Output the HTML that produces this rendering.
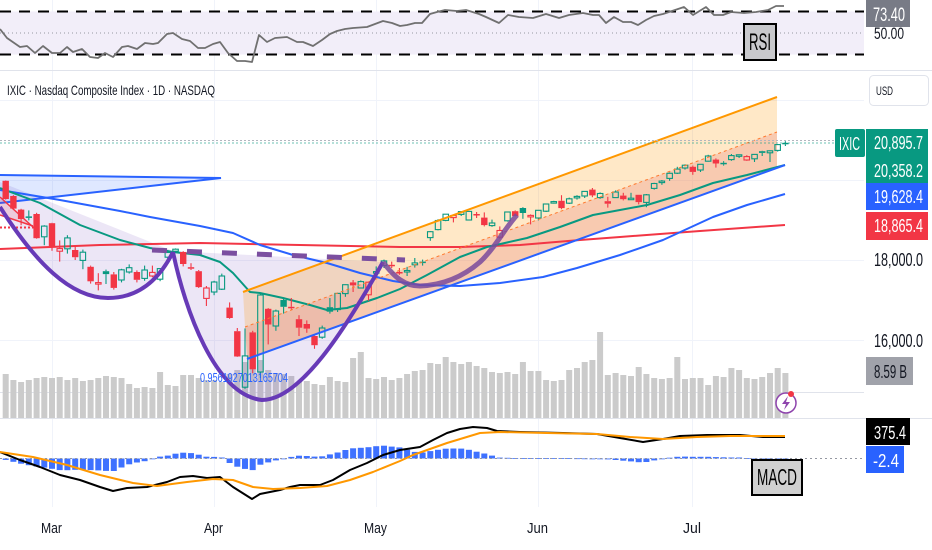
<!DOCTYPE html>
<html><head><meta charset="utf-8">
<style>
html,body{margin:0;padding:0;background:#fff;overflow:hidden;}
svg{display:block;font-family:"Liberation Sans",sans-serif;}
</style></head>
<body>
<svg id="c" width="932" height="550" viewBox="0 0 932 550" xmlns="http://www.w3.org/2000/svg">
<defs>
 <clipPath id="cpMain"><rect x="0" y="71" width="864" height="347"/></clipPath>
 <clipPath id="cpRsi"><rect x="0" y="0" width="864" height="70"/></clipPath>
 <clipPath id="cpMacd"><rect x="0" y="419" width="864" height="88"/></clipPath>
</defs>
<rect x="0" y="0" width="932" height="550" fill="#fff"/>
<!-- grid -->
<g stroke="#f0f3fa" stroke-width="1">
 <line x1="52.5" y1="0" x2="52.5" y2="507"/>
 <line x1="214.5" y1="0" x2="214.5" y2="507"/>
 <line x1="376.5" y1="0" x2="376.5" y2="507"/>
 <line x1="538.5" y1="0" x2="538.5" y2="507"/>
 <line x1="692.5" y1="0" x2="692.5" y2="507"/>
 <line x1="0" y1="100.5" x2="864" y2="100.5"/>
 <line x1="0" y1="180.5" x2="864" y2="180.5"/>
 <line x1="0" y1="260.5" x2="864" y2="260.5"/>
 <line x1="0" y1="340.5" x2="864" y2="340.5"/>
</g>
<line x1="0" y1="392.5" x2="864" y2="392.5" stroke="#e0e3eb" stroke-width="1"/>

<!-- RSI pane -->
<g clip-path="url(#cpRsi)">
 <rect x="0" y="11.5" width="864" height="43" fill="#f2eef9"/>
 <line x1="0" y1="11.5" x2="864" y2="11.5" stroke="#000" stroke-width="2" stroke-dasharray="11 8"/>
 <line x1="0" y1="54.5" x2="864" y2="54.5" stroke="#000" stroke-width="2" stroke-dasharray="11 8"/>
 <line x1="0" y1="33" x2="864" y2="33" stroke="#9598a1" stroke-width="1" stroke-dasharray="1 3"/>
 <polyline fill="none" stroke="#707070" stroke-width="1.8" stroke-linejoin="round" points="0,29 7,38 20,47 27,46 35,53 43,46 52,53 60,53 67,47 73,52 82,49 90,57 98,58 105,53 113,57 122,47 128,46 137,49 145,43 153,44 158,43 167,34 173,33 182,39 190,41 198,48 205,48 213,44 220,42 228,53 237,61 245,61 252,62 259,35 267,42 275,38 287,37 297,42 303,42 313,46 322,40 330,34 337,31 345,29 353,28 367,27 375,24 383,21 392,23 400,26 407,25 415,23 422,23 430,14 437,12 445,10 457,11 466,10 479,14 486,17 499,23 508,15 519,17 533,18 546,14 559,18 569,15 583,13 593,15 599,15 606,23 614,17 623,22 631,22 638,25 646,20 654,16 663,14 669,12 684,7 693,15 706,7 714,15 723,15 731,12 744,13 756,12 768,10 776,6 784,6"/>
</g>
<line x1="0" y1="70.5" x2="932" y2="70.5" stroke="#e0e3eb" stroke-width="1"/>

<!-- MAIN pane -->
<g clip-path="url(#cpMain)">
 <g id="vol"></g>
 <path d="M0,182 L173,251 C160,278 140,298 108,298 C70,298 35,262 0,207 Z" fill="#7e57c2" fill-opacity="0.15"/>
 <path d="M173,251 L383,262 C345,330 300,400 262,400 C215,395 185,310 173,252 Z" fill="#7e57c2" fill-opacity="0.15"/>
 <polygon points="0,175 221,178 0,203" fill="#2962ff" fill-opacity="0.15"/>
 <polyline points="0,175 221,178 0,203" fill="none" stroke="#2962ff" stroke-width="2"/>
 <polygon points="0,197 33,227 0,215" fill="#f23645" fill-opacity="0.15"/>
 <polyline points="0,197 33,227" fill="none" stroke="#f23645" stroke-width="1.5"/>
 <polyline points="0,215 33,226" fill="none" stroke="#f23645" stroke-width="1.5"/>
 <line x1="0" y1="227.5" x2="35" y2="227.5" stroke="#f23645" stroke-width="2" stroke-dasharray="2 2"/>
 <polygon points="243,292 777,97 777,132 245,327" fill="#ff9800" fill-opacity="0.22"/>
 <polygon points="245,327 777,132 777,168 247,359" fill="#f08a50" fill-opacity="0.45"/>
 <polyline fill="none" stroke="#f23645" stroke-width="2" points="0,249 100,245 200,243 300,245 400,247 460,247 520,245 580,240 620,237 700,231 785,225"/>
 <polyline fill="none" stroke="#2962ff" stroke-width="2" stroke-linejoin="round" points="0,190 60,200 120,211 150,217 200,226 233,233 260,245 293,255 327,263 360,273 393,281 420,285 460,286 500,283 543,277 577,268 620,255 663,240 713,217 747,205 785,194"/>
 <polyline fill="none" stroke="#089981" stroke-width="2" stroke-linejoin="round" points="0,188 40,203 80,225 120,240 150,248 173,252 200,255 220,262 233,273 250,292 260,293 283,298 310,305 327,310 347,308 377,298 400,289 427,275 460,257 487,247 527,238 560,227 593,215 620,210 647,205 680,195 713,183 747,175 785,165"/>
 <g id="candles"></g>
 <line x1="243" y1="292" x2="777" y2="97" stroke="#ff9800" stroke-width="2"/>
 <line x1="245" y1="327" x2="777" y2="132" stroke="#ff7a2f" stroke-width="1" stroke-dasharray="3 3"/>
 <line x1="247" y1="359" x2="785" y2="165" stroke="#2962ff" stroke-width="2"/>
 <path d="M0,207 C35,262 70,298 108,298 C140,298 160,278 173,252" fill="none" stroke="#673ab7" stroke-width="4"/>
 <path d="M173,252 C185,310 215,395 262,400 C300,400 345,330 383,262" fill="none" stroke="#673ab7" stroke-width="4"/>
 <path d="M383,262 C395,278 405,286 420,286 C445,285 465,275 480,262 C495,248 505,228 517,215" fill="none" stroke="#7a4a9c" stroke-width="5" stroke-opacity="0.85"/>
 <line x1="152" y1="250" x2="405" y2="260" stroke="#7b4fa0" stroke-width="5" stroke-dasharray="15 20"/>
 <text x="200" y="382" font-size="13" fill="#2962ff" textLength="88" lengthAdjust="spacingAndGlyphs">0.9561927013165704</text>
 <line x1="0" y1="140.5" x2="835" y2="140.5" stroke="#b2b5be" stroke-width="1" stroke-dasharray="2 2"/>
 <line x1="0" y1="143" x2="835" y2="143" stroke="#089981" stroke-width="1" stroke-dasharray="2 2" stroke-opacity="0.6"/>
</g>
<circle cx="786" cy="403" r="10" fill="#fff" stroke="#8e44ad" stroke-width="1.5"/>
<path d="M788,396 L782,404 L786,404 L784,410 L790,402 L786,402 Z" fill="#8e44ad"/>
<circle cx="791" cy="394" r="3" fill="#f23645"/>

<text x="7" y="95" font-size="14" fill="#131722" textLength="208" lengthAdjust="spacingAndGlyphs">IXIC · Nasdaq Composite Index · 1D · NASDAQ</text>

<rect x="866" y="0" width="44" height="27" fill="#787b86"/>
<text x="873" y="21" font-size="19" fill="#fff" textLength="32" lengthAdjust="spacingAndGlyphs">73.40</text>
<text x="874" y="39" font-size="17" fill="#131722" textLength="30" lengthAdjust="spacingAndGlyphs">50.00</text>
<rect x="744" y="24" width="32" height="36" fill="#c8c8cc" stroke="#000" stroke-width="2"/>
<text x="749" y="50" font-size="24" fill="#000" textLength="22" lengthAdjust="spacingAndGlyphs">RSI</text>

<rect x="869.5" y="75.5" width="59" height="30" rx="4" fill="#fff" stroke="#e0e3eb"/>
<text x="876" y="95" font-size="12" fill="#131722" textLength="17" lengthAdjust="spacingAndGlyphs">USD</text>

<rect x="835" y="129" width="30" height="28" rx="2" fill="#089981"/>
<text x="839" y="150" font-size="18" fill="#fff" textLength="21" lengthAdjust="spacingAndGlyphs">IXIC</text>
<rect x="866" y="129" width="62" height="54" fill="#089981"/>
<text x="874" y="149" font-size="18" fill="#fff" textLength="49" lengthAdjust="spacingAndGlyphs">20,895.7</text>
<text x="874" y="177" font-size="18" fill="#fff" textLength="49" lengthAdjust="spacingAndGlyphs">20,358.2</text>
<rect x="866" y="183" width="62" height="27" fill="#2962ff"/>
<text x="874" y="203" font-size="18" fill="#fff" textLength="49" lengthAdjust="spacingAndGlyphs">19,628.4</text>
<rect x="866" y="212" width="62" height="28" fill="#f23645"/>
<text x="874" y="232" font-size="18" fill="#fff" textLength="49" lengthAdjust="spacingAndGlyphs">18,865.4</text>
<text x="874" y="266" font-size="18" fill="#131722" textLength="49" lengthAdjust="spacingAndGlyphs">18,000.0</text>
<text x="874" y="347" font-size="18" fill="#131722" textLength="49" lengthAdjust="spacingAndGlyphs">16,000.0</text>
<rect x="866" y="357" width="47" height="28" fill="#a0a2aa"/>
<text x="874" y="378" font-size="18" fill="#131722" textLength="33" lengthAdjust="spacingAndGlyphs">8.59 B</text>

<line x1="0" y1="418.5" x2="932" y2="418.5" stroke="#e0e3eb" stroke-width="1"/>

<g clip-path="url(#cpMacd)">
 <g id="hist"></g>
 <line x1="0" y1="458.5" x2="866" y2="458.5" stroke="#9598a1" stroke-width="1" stroke-dasharray="2 3"/>
 <polyline fill="none" stroke="#000" stroke-width="2" stroke-linejoin="round" points="0,452 20,460 40,467 60,475 80,480 100,487 113,491 127,488 147,487 167,482 180,477 193,476 207,478 220,477 233,487 252,499 260,494 280,490 290,487 300,485 320,485 333,480 350,470 367,463 383,455 400,450 420,447 433,440 447,433 460,429 473,427 487,428 497,431 520,432 563,433 597,434 620,438 643,442 663,439 680,436 707,435 740,435 763,437 785,437"/>
 <polyline fill="none" stroke="#ff9800" stroke-width="2" stroke-linejoin="round" points="0,452 33,457 67,465 100,475 133,483 157,486 187,482 213,479 233,480 253,487 273,489 300,488 327,486 350,480 373,472 400,461 413,455 447,443 480,433 500,432 547,433 597,434 630,437 663,439 697,437 730,436 785,436"/>
</g>
<rect x="866" y="418" width="44" height="27" fill="#000"/>
<text x="874" y="439" font-size="18" fill="#fff" textLength="32" lengthAdjust="spacingAndGlyphs">375.4</text>
<rect x="866" y="446" width="38" height="27" fill="#2962ff"/>
<text x="873" y="467" font-size="18" fill="#fff" textLength="26" lengthAdjust="spacingAndGlyphs">-2.4</text>
<rect x="752" y="460" width="50" height="35" fill="#d0d0d0" stroke="#000" stroke-width="2"/>
<text x="757" y="485" font-size="23" fill="#000" textLength="40" lengthAdjust="spacingAndGlyphs">MACD</text>

<g font-size="15" fill="#131722">
 <text x="41" y="533" textLength="21" lengthAdjust="spacingAndGlyphs">Mar</text>
 <text x="204" y="533" textLength="19" lengthAdjust="spacingAndGlyphs">Apr</text>
 <text x="364" y="533" textLength="23" lengthAdjust="spacingAndGlyphs">May</text>
 <text x="527" y="533" textLength="21" lengthAdjust="spacingAndGlyphs">Jun</text>
 <text x="683" y="533" textLength="18" lengthAdjust="spacingAndGlyphs">Jul</text>
</g>
</svg>
<script>
(function(){
var D=[[19980,19990,19510,19524],[19600,19620,19260,19286],[19260,19280,18870,19026],[19090,19240,18990,19075],[19150,19180,18530,18544],[18580,18870,18370,18847],
[18920,18930,18230,18350],[18220,18490,17960,18285],[18280,18620,18160,18553],[18250,18330,18000,18069],[17990,18260,17770,18196],[17830,17860,17410,17468],[17430,17670,17240,17436],[17720,17760,17400,17648],[17640,17700,17260,17303],[17500,17780,17440,17754],[17700,17890,17660,17808],[17700,17740,17440,17504],[17540,17860,17480,17750],[17600,17860,17570,17691],[17520,17800,17470,17784],[18070,18220,18030,18188],[18220,18290,18180,18271],[18200,18220,17840,17899],[17820,17920,17750,17804],[17720,17750,17300,17322],[17040,17350,16850,17299],
[17200,17480,17120,17449],[17270,17660,17250,17601],[16810,16940,16530,16551],[16220,16300,15580,15588],[14820,16290,14780,15603],[16190,16230,15170,15268],[15200,17160,15050,17125],[16780,16800,15890,16387],[16350,16760,16230,16724],[17000,17060,16660,16831],[16830,17050,16760,16823],[16520,16620,16100,16307],[16400,16490,16180,16286],[16100,16110,15780,15870],[16070,16360,16030,16300],[16820,17050,16660,16708],[16760,17180,16700,17166],[17160,17390,17080,17382],[17440,17500,17200,17366],[17300,17490,17290,17461],[17130,17460,16980,17446],
[17700,17840,17620,17710],[17860,18010,17800,17977],[17880,17960,17800,17844],[17700,17800,17630,17689],[17730,17830,17600,17738],[17880,18050,17810,17928],[17960,18010,17860,17929],[18560,18720,18480,18708],[18760,19020,18740,18987],[18990,19150,18970,19146],[19060,19120,18940,19112],[19140,19220,19100,19211],[19000,19220,18990,19215],[19150,19200,19050,19143],[19060,19190,18840,18872],[18860,19010,18830,18925],[18570,18840,18530,18737],[18980,19200,18960,19199],[19220,19240,19090,19101],[19300,19320,19030,19175],[19110,19140,18890,19114],
[19050,19250,18990,19243],[19220,19410,19200,19399],[19430,19480,19410,19460],[19480,19620,19270,19298],[19420,19560,19400,19530],[19580,19620,19510,19591],[19600,19720,19550,19715],[19760,19800,19570,19615],[19560,19690,19530,19662],[19470,19580,19310,19407],[19560,19740,19550,19701],[19610,19680,19490,19521],[19530,19680,19500,19546],[19630,19630,19390,19447],[19440,19650,19320,19631],[19790,19930,19760,19913],[19960,20000,19880,19973],[20040,20190,19980,20168],[20170,20330,20150,20273],[20300,20390,20260,20370],
[20330,20360,20130,20202],[20250,20400,20200,20393],[20470,20630,20460,20601],[20510,20540,20310,20412],[20430,20470,20360,20418],[20510,20650,20480,20611],[20600,20640,20550,20630],[20500,20620,20480,20586],[20530,20650,20450,20640],[20720,20730,20600,20677],[20680,20740,20450,20730],[20740,20900,20710,20885],[20930,20970,20850,20895]];
var V=[44,38,36,38,40,41,
40,41,38,40,37,38,40,42,41,40,
34,30,31,30,46,33,32,43,43,40,
38,38,36,44,48,56,52,58,48,45,
44,42,36,37,34,33,41,37,36,60,
66,40,39,41,38,40,44,47,48,55,
54,61,56,54,56,52,50,46,45,46,
44,56,47,47,38,37,38,48,50,56,
58,86,43,45,43,42,51,44,40,39,
40,61,39,40,40,33,42,41,50,48,
40,39,41,45,50,45];
var MACD=[[0,452],[20,460],[40,467],[60,475],[80,480],[100,487],[113,491],[127,488],[147,487],[167,482],[180,477],[193,476],[207,478],[220,477],[233,487],[252,499],[260,494],[280,490],[290,487],[300,485],[320,485],[333,480],[350,470],[367,463],[383,455],[400,450],[420,447],[433,440],[447,433],[460,429],[473,427],[487,428],[497,431],[520,432],[563,433],[597,434],[620,438],[643,442],[663,439],[680,436],[707,435],[740,435],[763,437],[785,437]];
var SIG=[[0,452],[33,457],[67,465],[100,475],[133,483],[157,486],[187,482],[213,479],[233,480],[253,487],[273,489],[300,488],[327,486],[350,480],[373,472],[400,461],[413,455],[447,443],[480,433],[500,432],[547,433],[597,434],[630,437],[663,439],[697,437],[730,436],[785,436]];
function interp(p,x){if(x<=p[0][0])return p[0][1];for(var j=1;j<p.length;j++){if(x<=p[j][0]){var a=p[j-1],b=p[j];return a[1]+(b[1]-a[1])*(x-a[0])/(b[0]-a[0]);}}return p[p.length-1][1];}
function yp(v){return 260-(v-18000)*0.04;}
var X0=52,DX=7.72,K0=-6;
var sv='',sc='',sh='';
for(var i=0;i<D.length;i++){
 var x=X0+(i+K0)*DX;
 var h=V[i]||40;
 sv+='<rect x="'+(x-3).toFixed(1)+'" y="'+(418-h)+'" width="6" height="'+h+'" fill="#cbcbcb"/>';
 var o=D[i][0],hi=D[i][1],lo=D[i][2],cl=D[i][3];
 var pc=i?D[i-1][3]:o;
 var col=cl>=pc?'#089981':'#f23645';
 var up=cl>=o;
 var yo=yp(o),yc=yp(cl),yh=yp(hi),yl=yp(lo);
 var top=Math.min(yo,yc),bot=Math.max(yo,yc);
 var bh=Math.max(bot-top,1.5);
 var xs=x.toFixed(1);
 sc+='<line x1="'+xs+'" y1="'+yh.toFixed(1)+'" x2="'+xs+'" y2="'+top.toFixed(1)+'" stroke="'+col+'" stroke-width="1.1"/>';
 sc+='<line x1="'+xs+'" y1="'+(top+bh).toFixed(1)+'" x2="'+xs+'" y2="'+yl.toFixed(1)+'" stroke="'+col+'" stroke-width="1.1"/>';
 if(up){sc+='<rect x="'+(x-2.75).toFixed(1)+'" y="'+top.toFixed(1)+'" width="5.5" height="'+bh.toFixed(1)+'" fill="none" stroke="'+col+'" stroke-width="1.1"/>';}
 else{sc+='<rect x="'+(x-3.2).toFixed(1)+'" y="'+top.toFixed(1)+'" width="6.4" height="'+bh.toFixed(1)+'" fill="'+col+'"/>';}
 var d=interp(SIG,x)-interp(MACD,x);
 var hy=d>0?458.5-d:458.5, hh=Math.max(Math.abs(d),0.8);
 sh+='<rect x="'+(x-3).toFixed(1)+'" y="'+hy.toFixed(1)+'" width="6" height="'+hh.toFixed(1)+'" fill="#2962ff" fill-opacity="0.9"/>';
}
document.getElementById('vol').innerHTML=sv;
document.getElementById('candles').innerHTML=sc;
document.getElementById('hist').innerHTML=sh;
})();
</script>
</body></html>
